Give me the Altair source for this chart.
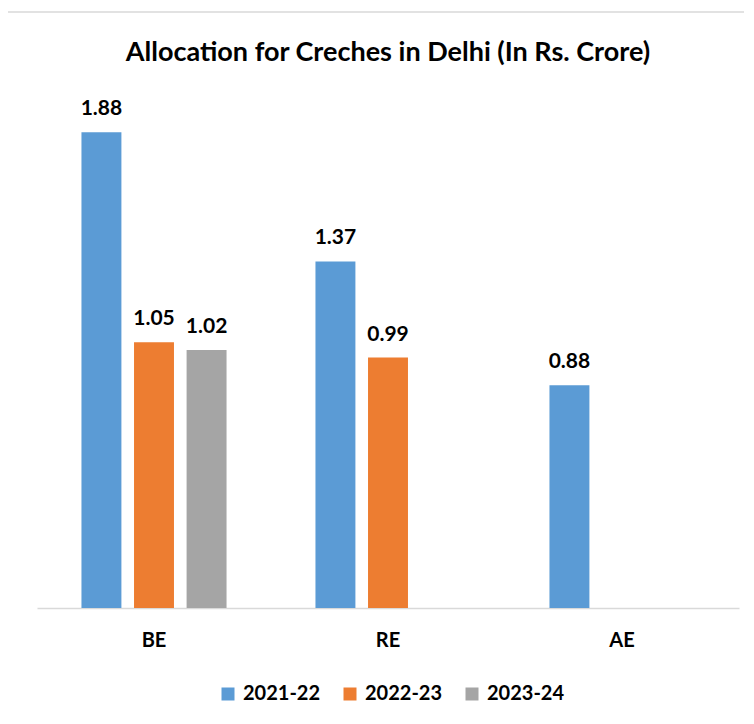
import altair as alt
import pandas as pd

categories = ["BE", "RE", "AE"]
years = ["2021-22", "2022-23", "2023-24"]
cat_col = ["BE", "BE", "BE", "RE", "RE", "AE"]
year_col = ["2021-22", "2022-23", "2023-24", "2021-22", "2022-23", "2021-22"]
values = [1.88, 1.05, 1.02, 1.37, 0.99, 0.88]
colors = ["#5B9BD5", "#ED7D31", "#A5A5A5"]
title_text = "Allocation for Creches in Delhi (In Rs. Crore)"

df = pd.DataFrame({"category": cat_col, "year": year_col, "value": values})

FONT = "Lato"
W, H = 702, 506

x = alt.X(
    "category:N",
    sort=categories,
    scale=alt.Scale(domain=categories, paddingInner=0.38, paddingOuter=0.19),
    axis=alt.Axis(
        title=None, labelAngle=0, ticks=False, tickSize=0, labelPadding=22,
        labelFont=FONT, labelFontSize=20, labelFontWeight="bold", labelColor="black",
        domainColor="#D9D9D9", domainWidth=1.5,
    ),
)
xo = alt.XOffset("year:N", sort=years, scale=alt.Scale(domain=years, paddingInner=0.24, paddingOuter=0))
y = alt.Y("value:Q", scale=alt.Scale(domain=[0, 2]), axis=None)

base = alt.Chart(df)
bars = base.mark_bar().encode(
    x=x, xOffset=xo, y=y,
    color=alt.Color(
        "year:N",
        scale=alt.Scale(domain=years, range=colors),
        legend=alt.Legend(
            title=None, orient="none", legendX=181, legendY=582, direction="horizontal",
            symbolType="square", symbolSize=169, symbolStrokeWidth=0,
            labelFont=FONT, labelFontSize=20, labelFontWeight="bold", labelColor="black",
            columnPadding=19, labelOffset=5,
        ),
    ),
)
labels = base.mark_text(
    dy=-17, baseline="alphabetic", font=FONT, fontSize=21, fontWeight="bold", color="black"
).encode(x=x, xOffset=xo, y=y, text=alt.Text("value:Q", format=".2f"))

one = alt.Data(values=[{"t": title_text}])
title = alt.Chart(one).mark_text(
    align="center", baseline="alphabetic", font=FONT, fontSize=27, fontWeight="bold", color="black"
).encode(x=alt.value(W / 2), y=alt.value(-41), text="t:N")

frame = alt.Data(values=[{"a": 1}])
top_line = alt.Chart(frame).mark_rule(color="#D9D9D9", strokeWidth=1.5).encode(
    x=alt.value(-30), x2=alt.value(760), y=alt.value(-90)
)
left_line = alt.Chart(frame).mark_rule(color="#D9D9D9", strokeWidth=1.5).encode(
    x=alt.value(-30), y=alt.value(-90), y2=alt.value(700)
)

chart = alt.layer(top_line, left_line, bars, labels, title).properties(
    width=W, height=H,
    background="white",
    autosize=alt.AutoSizeParams(type="none"),
    padding={"left": 29, "top": 94, "right": 5, "bottom": 100},
).configure_view(strokeWidth=0, stroke=None)

chart.save("out.html", embed_options={"renderer": "svg", "actions": False})
